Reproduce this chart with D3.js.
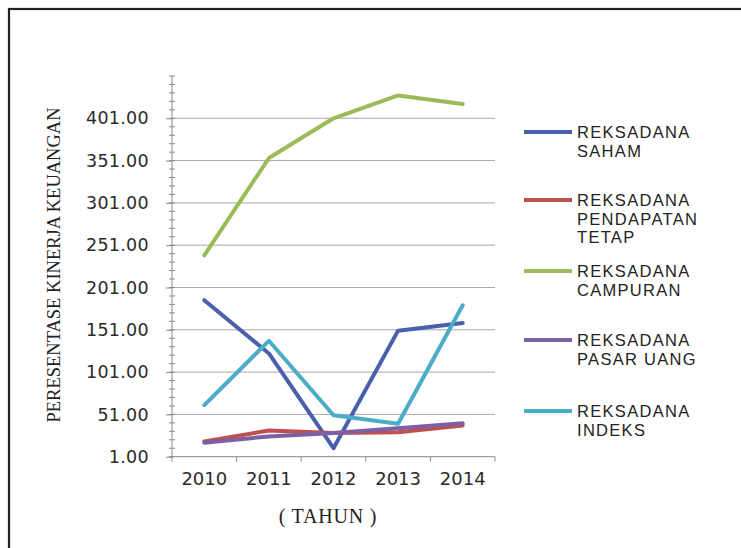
<!DOCTYPE html>
<html>
<head>
<meta charset="utf-8">
<script src="https://cdn.jsdelivr.net/npm/d3@7"></script>
<style>
  body { margin: 0; background: #fff; }
</style>
</head>
<body>
<div class="canvas"></div>
<script>
// data
const years = ['2010', '2011', '2012', '2013', '2014'];
const seriesNames = [
    ['REKSADANA', 'SAHAM'],
    ['REKSADANA', 'PENDAPATAN', 'TETAP'],
    ['REKSADANA', 'CAMPURAN'],
    ['REKSADANA', 'PASAR UANG'],
    ['REKSADANA', 'INDEKS']
];
const saham = [186, 123, 11, 150, 159];
const pendapatanTetap = [19, 32, 29, 30, 38];
const campuran = [239, 354, 401, 428, 418];
const pasarUang = [17.5, 25, 29, 34.5, 40.5];
const indeks = [62, 138, 50, 40, 180];
const yTicks = [1, 51, 101, 151, 201, 251, 301, 351, 401];

const allSeries = [saham, pendapatanTetap, campuran, pasarUang, indeks];
const colors = ['#4a60ac', '#c0504d', '#9bbb59', '#7d5fa3', '#4bacc6'];
const legendY = [132, 200, 271, 340, 411];

const svg = d3.select('.canvas')
    .append('svg')
    .attr('width', 741)
    .attr('height', 548);

// outer frame
svg.append('rect')
    .attr('x', 9)
    .attr('y', 9)
    .attr('width', 800)
    .attr('height', 600)
    .attr('fill', 'none')
    .attr('stroke', '#222')
    .attr('stroke-width', 2.2);

const left = 172, right = 495, bottom = 456.7;

const y = d3.scaleLinear()
    .domain([1, 451])
    .range([bottom, bottom - 450 * 0.846]);

const x = d3.scaleBand()
    .domain(years)
    .range([left, right]);

// gridlines
svg.append('g')
    .selectAll('line')
    .data(yTicks.slice(1))
    .enter()
    .append('line')
    .attr('x1', left)
    .attr('x2', right)
    .attr('y1', d => y(d))
    .attr('y2', d => y(d))
    .attr('stroke', '#a8a8a8')
    .attr('stroke-width', 1);

// minor ticks across the axis
svg.append('g')
    .selectAll('line')
    .data(d3.range(1, 452, 10))
    .enter()
    .append('line')
    .attr('x1', left - 3)
    .attr('x2', left + 3)
    .attr('y1', d => y(d))
    .attr('y2', d => y(d))
    .attr('stroke', '#8a8a8a')
    .attr('stroke-width', 1);

// y axis
const yAxisGroup = svg.append('g')
    .attr('transform', `translate(${left}, 0)`)
    .call(d3.axisLeft(y).tickValues(yTicks).tickSize(6).tickPadding(17).tickFormat(d3.format('.2f')));

yAxisGroup.select('.domain')
    .attr('d', `M0,${y(451)}V${bottom}`)
    .attr('stroke', '#8a8a8a');
yAxisGroup.selectAll('.tick line').attr('stroke', '#8a8a8a');
yAxisGroup.selectAll('text')
    .attr('font-family', 'DejaVu Sans')
    .attr('font-size', 17.5)
    .attr('letter-spacing', 0.3)
    .attr('fill', '#2a2a2a');

// x axis
const xAxisGroup = svg.append('g')
    .attr('transform', `translate(0, ${bottom})`)
    .call(d3.axisBottom(x).tickSize(0).tickPadding(16));

xAxisGroup.select('.domain')
    .attr('d', `M${left},0H${right}`)
    .attr('stroke', '#8a8a8a');
xAxisGroup.selectAll('text')
    .attr('font-family', 'DejaVu Sans')
    .attr('font-size', 18)
    .attr('fill', '#2a2a2a');

xAxisGroup.selectAll('.bound')
    .data(years.map(d => x(d)).concat([right]))
    .enter()
    .append('line')
    .attr('x1', d => d)
    .attr('x2', d => d)
    .attr('y1', 0)
    .attr('y2', 5)
    .attr('stroke', '#8a8a8a');

// lines
const line = d3.line()
    .x((d, i) => x(years[i]) + x.bandwidth() / 2)
    .y(d => y(d));

svg.append('g')
    .selectAll('path')
    .data(allSeries)
    .enter()
    .append('path')
    .attr('d', line)
    .attr('fill', 'none')
    .attr('stroke', (d, i) => colors[i])
    .attr('stroke-width', 4)
    .attr('stroke-linejoin', 'round')
    .attr('stroke-linecap', 'round');

// legend
const legend = svg.append('g')
    .selectAll('g')
    .data(seriesNames)
    .enter()
    .append('g')
    .attr('transform', (d, i) => `translate(524, ${legendY[i]})`);

legend.append('line')
    .attr('x1', 0)
    .attr('x2', 48)
    .attr('stroke', (d, i) => colors[i])
    .attr('stroke-width', 4);

legend.each(function (names) {
    d3.select(this).selectAll('text')
        .data(names)
        .enter()
        .append('text')
        .attr('x', 53)
        .attr('y', (d, j) => j * 18.5 + 6)
        .attr('font-family', 'Liberation Sans')
        .attr('font-size', 16.5)
        .attr('letter-spacing', 1.3)
        .attr('fill', '#222')
        .text(d => d);
});

// axis titles
svg.append('text')
    .attr('transform', 'translate(60, 265) rotate(-90)')
    .attr('text-anchor', 'middle')
    .attr('font-family', 'Liberation Serif')
    .attr('font-size', 18.5)
    .attr('fill', '#222')
    .text('PERESENTASE KINERJA KEUANGAN');

svg.append('text')
    .attr('x', 328)
    .attr('y', 523)
    .attr('text-anchor', 'middle')
    .attr('font-family', 'Liberation Serif')
    .attr('font-size', 20)
    .attr('letter-spacing', 0.8)
    .attr('fill', '#222')
    .attr('xml:space', 'preserve')
    .style('white-space', 'pre')
    .text('( TAHUN )');
</script>
</body>
</html>
